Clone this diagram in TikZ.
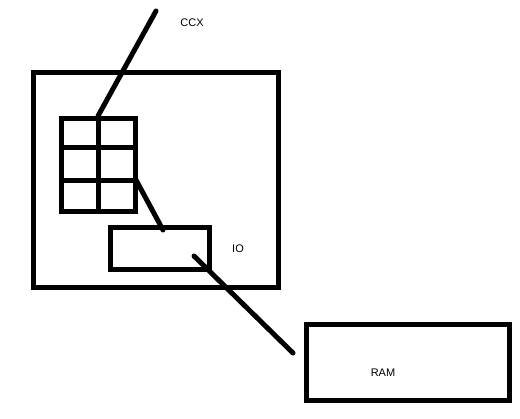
\documentclass[tikz,border=0pt]{standalone}
\usepackage{fontspec}
\setmainfont{Liberation Sans}
\begin{document}
\begin{tikzpicture}[x=1pt,y=-1pt,
  box/.style={draw=black,line width=5pt,inner sep=0pt,fill=none},
  wire/.style={draw=black,line width=5pt,line cap=round},
  lbl/.style={font=\fontsize{11}{13}\selectfont,inner sep=0pt}]
\useasboundingbox[fill=white] (0,0) rectangle (520,419);
% outer chip
\node[box,minimum width=245pt,minimum height=215pt] (chip) at (155.5,180.5) {};
% CCX grid
\node[box,minimum width=74pt,minimum height=93.5pt] (grid) at (98,165.25) {};
\draw[line width=5pt] (grid.north) -- (grid.south);
\draw[line width=5pt] (grid.west |- 0,148) -- (grid.east |- 0,148);
\draw[line width=5pt] (grid.west |- 0,181) -- (grid.east |- 0,181);
% IO box
\node[box,minimum width=99.5pt,minimum height=42pt] (io) at (159.75,248.5) {};
% RAM box
\node[box,minimum width=203.5pt,minimum height=75.5pt] (ram) at (407.75,362.75) {};
% labels
\node[lbl] (ccxl) at (192,23) {CCX};
\node[lbl] (iol) at (238,249) {IO};
\node[lbl] (raml) at (383,373) {RAM};
% connectors
\coordinate (ccxend) at (156,11);
\coordinate (ioin) at (194,256);
\coordinate (ramend) at (293,353);
\coordinate (gridr) at (136,180);
\coordinate (iotop) at (163,230);
\draw[wire] (ccxend) -- (grid.north);
\draw[wire] (gridr) -- (iotop);
\draw[wire] (ioin) -- (ramend);
\end{tikzpicture}
\end{document}
